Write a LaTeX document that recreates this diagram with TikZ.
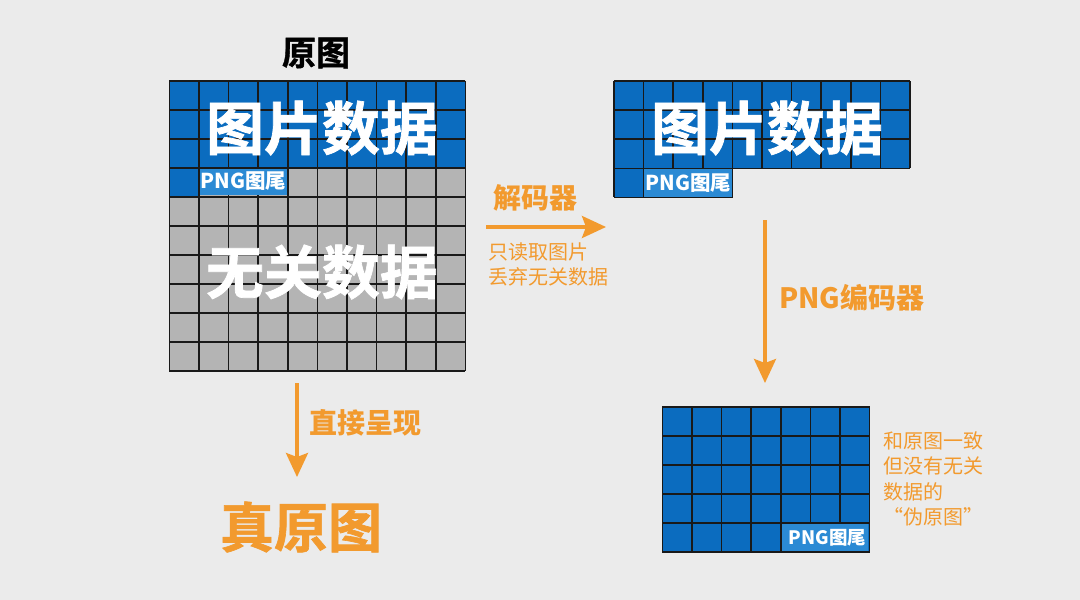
\documentclass[tikz,border=0pt]{standalone}
\usepackage{fontspec}
\setmainfont{Noto Sans CJK SC}
\newfontfamily\heavy{Noto Sans CJK SC Bold}[FakeBold=1.2]
\usetikzlibrary{arrows.meta}
\definecolor{bg}{HTML}{EBEBEB}
\definecolor{pblue}{HTML}{0B6CBF}
\definecolor{lblue}{HTML}{2B8AD4}
\definecolor{pgray}{HTML}{B4B4B4}
\definecolor{orng}{HTML}{F29A2E}
\tikzset{
  gridline/.style={draw=black!90,line width=1.6pt},
  taglabel/.style={text=white,inner sep=0pt,font=\fontsize{20.5}{20.5}\selectfont\bfseries,anchor=center},
  bigwhite/.style={text=white,font=\fontsize{58}{58}\selectfont\heavy,inner sep=0pt},
  orlabel/.style={text=orng,font=\fontsize{28}{28}\selectfont\bfseries,inner sep=0pt},
  ortext/.style={text=orng,font=\fontsize{20}{25.5}\selectfont,inner sep=0pt,align=left},
  orarrow/.style={draw=orng,line width=3.4pt,-{Stealth[length=24pt,width=22pt,inset=4pt]}},
}
\begin{document}
\begin{tikzpicture}[x=1pt,y=-1pt]
\fill[bg] (0,0) rectangle (1080,600);
\useasboundingbox (0,0) rectangle (1080,600);
% ---------- original image grid (10 x 10)
\fill[pgray] (169.3,80.7) rectangle (465.3,370.7);
\fill[pblue] (169.3,80.7) rectangle (465.3,167.7);
\fill[pblue] (169.3,167.7) rectangle (198.9,196.7);
\foreach \c in {0,...,10}{
  \pgfmathsetmacro{\xa}{169.3+29.6*\c}
  \draw[gridline] (\xa,80.7) -- (\xa,370.7);
}
\foreach \r in {0,...,10}{
  \pgfmathsetmacro{\ya}{80.7+29*\r}
  \draw[gridline] (169.3,\ya) -- (465.3,\ya);
}
\fill[lblue] (199.8,168.6) rectangle (287.2,194.8);
\node[taglabel] (tag1) at (243.5,181.4) {PNG图尾};
\node[bigwhite] (pic1) at (322,128) {图片数据};
\node[bigwhite] (junk) at (322,272) {无关数据};
\node[font=\fontsize{34}{34}\selectfont\heavy,text=black,inner sep=0pt] (orig) at (316,53) {原图};
% ---------- decoded grid (top right)
\fill[pblue] (614,81) rectangle (910,168.3);
\fill[pblue] (614,168.3) rectangle (702.8,197.4);
\foreach \c in {0,...,10}{
  \pgfmathsetmacro{\xa}{614+29.6*\c}
  \draw[gridline] (\xa,81) -- (\xa,168.3);
}
\foreach \c in {0,...,3}{
  \pgfmathsetmacro{\xa}{614+29.6*\c}
  \draw[gridline] (\xa,168.3) -- (\xa,197.4);
}
\foreach \r in {0,...,3}{
  \pgfmathsetmacro{\ya}{81+29.1*\r}
  \draw[gridline] (614,\ya) -- (910,\ya);
}
\draw[gridline] (614,197.4) -- (702.8,197.4);
\fill[lblue] (644.3,169.0) rectangle (732.5,196.6);
\draw[gridline] (732.5,168.3) -- (732.5,197.4) -- (702.8,197.4);
\node[taglabel] (tag2) at (688.4,182.8) {PNG图尾};
\node[bigwhite] (pic2) at (767,128) {图片数据};
% ---------- re-encoded grid (bottom right)
\fill[pblue] (662.3,406.7) rectangle (869.5,551.7);
\foreach \c in {0,...,7}{
  \pgfmathsetmacro{\xa}{662.3+29.6*\c}
  \draw[gridline] (\xa,406.7) -- (\xa,551.7);
}
\foreach \r in {0,...,5}{
  \pgfmathsetmacro{\ya}{406.7+29*\r}
  \draw[gridline] (662.3,\ya) -- (869.5,\ya);
}
\fill[lblue] (781.8,523.6) rectangle (868.3,550.8);
\node[taglabel,font=\fontsize{18.5}{18.5}\selectfont\bfseries,anchor=east] (tag3) at (866.5,537.5) {PNG图尾};
% ---------- arrows and labels
\coordinate (d1) at (486,227);
\coordinate (d2) at (606,227);
\draw[orarrow] (d1) -- (d2);
\node[orlabel,anchor=west] (dec) at (493,198) {解码器};
\node[ortext,anchor=north west] (decnote) at (488,242) {只读取图片\\丢弃无关数据};
\coordinate (e1) at (765,220);
\coordinate (e2) at (765,383);
\draw[orarrow] (e1) -- (e2);
\node[orlabel,anchor=west] (enc) at (779,298) {PNG编码器};
\coordinate (s1) at (297,383);
\coordinate (s2) at (297,477);
\draw[orarrow] (s1) -- (s2);
\node[orlabel,anchor=west] (show) at (309,423) {直接呈现};
\node[text=orng,font=\fontsize{54}{54}\selectfont\heavy,inner sep=0pt] (real) at (301,527) {真原图};
\node[ortext,anchor=north west] (fakenote) at (883,431) {和原图一致\\但没有无关\\数据的\\“伪原图”};
\end{tikzpicture}
\end{document}
